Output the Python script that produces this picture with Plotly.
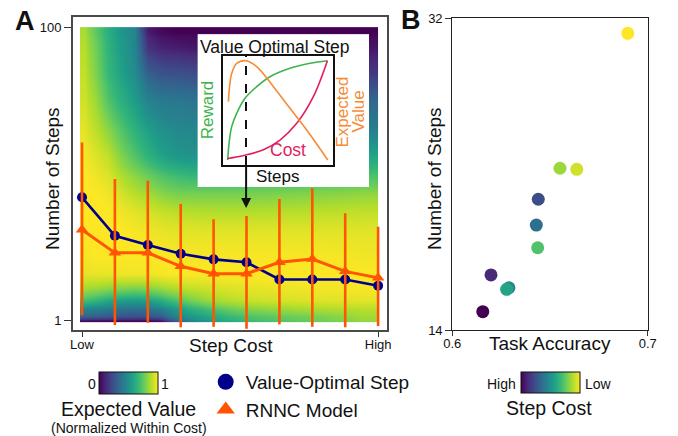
import numpy as np
import plotly.graph_objects as go

W, H = 678, 436
FONT = "Liberation Sans, Arial, sans-serif"

# ---------------- Panel A data ----------------
cost_index = list(range(10))
cost_tick_text = ["Low", "High"]
value_optimal_steps = [6.93, 3.79, 3.28, 2.86, 2.62, 2.50, 1.91, 1.91, 1.91, 1.73]
rnnc_steps = [4.17, 2.90, 2.90, 2.35, 2.09, 2.09, 2.50, 2.63, 2.17, 1.96]
rnnc_upper = [16.4, 9.23, 8.99, 6.24, 4.91, 5.17, 6.75, 7.98, 5.39, 4.37]
rnnc_lower = [1.09, 0.935, 0.969, 0.902, 0.910, 0.882, 0.945, 0.910, 0.902, 0.920]

# expected value (normalized within cost)
heat_cost = [0, 0.4, 0.8, 1.2, 1.6, 2.0, 2.4, 2.85, 3.6, 5, 7, 9]
heat_steps = [0.99, 1.065, 1.19, 1.39, 1.63, 2.06, 2.81, 4.16, 5.5, 7.2, 9.4, 13.5, 20, 32, 51, 75, 97]
heat_value = [
    [0.00, 0.00, 0.00, 0.00, 0.00, 0.00, 0.03, 0.32, 0.52, 0.68, 0.77, 0.84],
    [0.32, 0.30, 0.28, 0.26, 0.25, 0.25, 0.30, 0.45, 0.58, 0.72, 0.79, 0.86],
    [0.45, 0.43, 0.40, 0.37, 0.36, 0.37, 0.42, 0.54, 0.68, 0.81, 0.87, 0.89],
    [0.70, 0.66, 0.60, 0.56, 0.55, 0.57, 0.63, 0.72, 0.84, 0.92, 0.95, 0.96],
    [0.86, 0.84, 0.82, 0.80, 0.79, 0.80, 0.84, 0.88, 0.92, 0.96, 0.98, 0.99],
    [0.96, 0.97, 0.97, 0.98, 0.98, 0.98, 0.99, 1.00, 1.00, 1.00, 1.00, 1.00],
    [0.99, 1.00, 1.00, 1.00, 1.00, 1.00, 1.00, 0.99, 0.99, 0.99, 0.99, 0.98],
    [1.00, 1.00, 1.00, 1.00, 0.99, 0.98, 0.97, 0.96, 0.96, 0.96, 0.96, 0.96],
    [1.00, 1.00, 1.00, 0.98, 0.96, 0.94, 0.92, 0.90, 0.89, 0.89, 0.90, 0.91],
    [1.00, 1.00, 0.98, 0.94, 0.90, 0.87, 0.83, 0.80, 0.80, 0.80, 0.82, 0.84],
    [1.00, 0.98, 0.95, 0.88, 0.83, 0.78, 0.73, 0.69, 0.66, 0.68, 0.70, 0.72],
    [0.99, 0.95, 0.90, 0.80, 0.72, 0.64, 0.57, 0.52, 0.50, 0.52, 0.56, 0.58],
    [0.96, 0.90, 0.82, 0.72, 0.64, 0.56, 0.50, 0.47, 0.46, 0.45, 0.44, 0.43],
    [0.93, 0.85, 0.72, 0.63, 0.55, 0.45, 0.41, 0.40, 0.38, 0.36, 0.35, 0.33],
    [0.91, 0.80, 0.66, 0.56, 0.48, 0.30, 0.25, 0.24, 0.22, 0.20, 0.18, 0.16],
    [0.89, 0.78, 0.64, 0.54, 0.46, 0.15, 0.10, 0.08, 0.06, 0.05, 0.05, 0.06],
    [0.87, 0.75, 0.62, 0.52, 0.45, 0.08, 0.02, 0.00, 0.00, 0.00, 0.00, 0.00],
]
heat_cost_extent = [-0.06, 9.0]
heat_steps_extent = [0.974, 100]

# ---------------- Inset schematic ----------------
reward_x = [0.045, 0.061, 0.082, 0.127, 0.203, 0.309, 0.430, 0.612, 0.794, 0.952]
reward_y = [0.046, 0.229, 0.352, 0.474, 0.612, 0.719, 0.810, 0.887, 0.933, 0.957]
costc_x = [0.045, 0.203, 0.370, 0.521, 0.673, 0.824, 0.952]
costc_y = [0.060, 0.090, 0.140, 0.229, 0.382, 0.627, 0.957]
ev_x = [0.052, 0.061, 0.082, 0.127, 0.212, 0.309, 0.461, 0.612, 0.764, 0.955]
ev_y = [0.581, 0.703, 0.841, 0.933, 0.957, 0.902, 0.719, 0.520, 0.321, 0.046]
optimal_x = 0.212

# ---------------- Panel B data ----------------
task_accuracy = [0.6156, 0.6198, 0.6440, 0.6430, 0.6290, 0.6278, 0.6437, 0.6551, 0.6637, 0.6898]
steps_b = [15.06, 17.18, 21.55, 20.06, 16.44, 16.35, 18.75, 23.34, 23.28, 31.13]
cost_color = [0.00, 0.12, 0.24, 0.36, 0.47, 0.58, 0.72, 0.85, 0.93, 1.00]

NAVY = "#00008b"
ORANGE = "#ff5500"
GREEN = "#3fb44e"
CRIMSON = "#e01f5c"
EVOR = "#f68b35"


def px(x):
    return x / W


def py(y):
    return 1 - y / H


x_edges = [heat_cost_extent[0]] + [(a + b) / 2 for a, b in zip(heat_cost[:-1], heat_cost[1:])] + [heat_cost_extent[1]]
y_edges = [heat_steps_extent[0]] + [float(np.sqrt(a * b)) for a, b in zip(heat_steps[:-1], heat_steps[1:])] + [heat_steps_extent[1]]

fig = go.Figure()

fig.add_trace(go.Heatmap(
    x=x_edges, y=y_edges, z=heat_value, zmin=0, zmax=1, colorscale="Viridis",
    zsmooth="best", hoverinfo="skip", xaxis="x", yaxis="y",
    colorbar=dict(orientation="h", len=59, lenmode="pixels", thickness=22, thicknessmode="pixels",
                  x=px(128.5), xanchor="center", y=py(395), yanchor="bottom", xpad=0, ypad=0,
                  outlinewidth=1, outlinecolor="#111", showticklabels=False, ticks=""),
))

fig.add_trace(go.Scatter(
    x=cost_index, y=value_optimal_steps, mode="lines+markers", showlegend=False,
    line=dict(color=NAVY, width=2.6), marker=dict(color=NAVY, size=10, symbol="circle"),
    xaxis="x", yaxis="y",
))

fig.add_trace(go.Scatter(
    x=cost_index, y=rnnc_steps, mode="lines+markers", showlegend=False,
    line=dict(color=ORANGE, width=3), marker=dict(color=ORANGE, size=11, symbol="triangle-up"),
    error_y=dict(type="data", symmetric=False,
                 array=[u - m for u, m in zip(rnnc_upper, rnnc_steps)],
                 arrayminus=[m - l for m, l in zip(rnnc_steps, rnnc_lower)],
                 color=ORANGE, thickness=2.6, width=0),
    xaxis="x", yaxis="y",
))

# legend-only entries
fig.add_trace(go.Scatter(x=[None], y=[None], mode="markers", name="Value-Optimal Step",
                         marker=dict(color=NAVY, size=16, symbol="circle"), xaxis="x", yaxis="y"))
fig.add_trace(go.Scatter(x=[None], y=[None], mode="markers", name="RNNC Model",
                         marker=dict(color=ORANGE, size=16, symbol="triangle-up"), xaxis="x", yaxis="y"))

# Panel B
fig.add_trace(go.Scatter(
    x=task_accuracy, y=steps_b, mode="markers", showlegend=False,
    marker=dict(size=13, color=cost_color, colorscale="Viridis", cmin=0, cmax=1,
                line=dict(width=0),
                colorbar=dict(orientation="h", len=59, lenmode="pixels", thickness=21, thicknessmode="pixels",
                              x=px(550.7), xanchor="center", y=py(394.3), yanchor="bottom", xpad=0, ypad=0,
                              outlinewidth=1, outlinecolor="#111", showticklabels=False, ticks="")),
    xaxis="x2", yaxis="y2",
))

# Inset schematic curves
fig.add_trace(go.Scatter(x=reward_x, y=reward_y, mode="lines", line=dict(color=GREEN, width=1.6, shape="spline"),
                         showlegend=False, hoverinfo="skip", xaxis="x4", yaxis="y4"))
fig.add_trace(go.Scatter(x=costc_x, y=costc_y, mode="lines", line=dict(color=CRIMSON, width=1.6, shape="spline"),
                         showlegend=False, hoverinfo="skip", xaxis="x4", yaxis="y4"))
fig.add_trace(go.Scatter(x=ev_x, y=ev_y, mode="lines", line=dict(color=EVOR, width=1.6, shape="spline"),
                         showlegend=False, hoverinfo="skip", xaxis="x4", yaxis="y4"))

axfont = dict(family=FONT, size=13, color="#111")

fig.update_layout(
    width=W, height=H, margin=dict(l=0, r=0, t=0, b=0, autoexpand=False),
    paper_bgcolor="white", plot_bgcolor="white",
    font=dict(family=FONT, color="#111"),
    xaxis=dict(domain=[px(73), px(387)], range=[-0.2736, 9.27], tickvals=[0, 9], ticktext=cost_tick_text,
               ticks="outside", ticklen=5, tickwidth=1.2, tickcolor="#333", tickfont=axfont,
               ticklabelstandoff=-4,
               showline=True, mirror=True, linecolor="#4a4a4a", linewidth=1.8,
               showgrid=False, zeroline=False, anchor="y", automargin=False),
    yaxis=dict(domain=[py(330), py(17.3)], type="log", range=[-0.063, 2.067], tickvals=[1, 100],
               ticktext=["1", "100"], ticks="outside", ticklen=7, tickwidth=1.2, tickcolor="#333",
               tickfont=axfont, showline=True, mirror=True, linecolor="#4a4a4a", linewidth=1.8,
               showgrid=False, zeroline=False, anchor="x", automargin=False),
    xaxis2=dict(domain=[px(452.3), px(647.7)], range=[0.6, 0.7], tickvals=[0.6, 0.7], ticktext=["0.6", "0.7"],
                ticks="outside", ticklen=5, tickwidth=1.1, tickcolor="#333", tickfont=axfont,
                ticklabelstandoff=-4,
                showline=True, mirror=True, linecolor="#222", linewidth=1.2,
                showgrid=False, zeroline=False, anchor="y2", automargin=False),
    yaxis2=dict(domain=[py(330), py(18.3)], range=[14, 32], tickvals=[14, 32], ticktext=["14", "32"],
                ticks="outside", ticklen=6, tickwidth=1.1, tickcolor="#333", tickfont=axfont,
                showline=True, mirror=True, linecolor="#222", linewidth=1.2,
                showgrid=False, zeroline=False, anchor="x2", automargin=False),
    xaxis3=dict(domain=[px(197.7), px(369)], range=[0, 1], visible=False, anchor="y3"),
    yaxis3=dict(domain=[py(187), py(34.3)], range=[0, 1], visible=False, anchor="x3"),
    xaxis4=dict(domain=[px(222.7), px(332.7)], range=[0, 1], showticklabels=False, ticks="",
                showline=True, mirror=True, linecolor="#111", linewidth=1.6,
                showgrid=False, zeroline=False, anchor="y4"),
    yaxis4=dict(domain=[py(165), py(56)], range=[0, 1], showticklabels=False, ticks="",
                showline=True, mirror=True, linecolor="#111", linewidth=1.6,
                showgrid=False, zeroline=False, anchor="x4"),
    legend=dict(x=px(205.7), xanchor="left", y=py(363), yanchor="top",
                font=dict(family=FONT, size=19, color="#111"), bgcolor="rgba(0,0,0,0)",
                tracegroupgap=0, itemwidth=30),
)

shapes = [
    dict(type="rect", xref="x3", yref="y3", x0=0, x1=1, y0=0, y1=1, fillcolor="white",
         line=dict(width=0), layer="below"),
    dict(type="line", xref="x4", yref="y4", x0=optimal_x, x1=optimal_x, y0=0, y1=1,
         line=dict(color="#111", width=2, dash="dash"), layer="above"),
]
fig.update_layout(shapes=shapes)


def ann(text, x, y, size, color="#111", angle=0, xanchor="center", yanchor="middle"):
    return dict(text=text, x=px(x), y=py(y), xref="paper", yref="paper", showarrow=False,
                font=dict(family=FONT, size=size, color=color), textangle=angle,
                xanchor=xanchor, yanchor=yanchor)


annotations = [
    ann("<b>A</b>", 25, 21, 27),
    ann("<b>B</b>", 411, 20, 27),
    ann("Number of Steps", 52, 179, 19, angle=-90),
    ann("Step Cost", 230.8, 345, 19),
    ann("Number of Steps", 434, 179, 19, angle=-90),
    ann("Task Accuracy", 550, 343, 19),
    ann("Value Optimal Step", 274.4, 47, 17.5),
    ann("Reward", 208.3, 110, 17, color=GREEN, angle=-90),
    ann("Cost", 288.3, 150, 17.5, color=CRIMSON),
    ann("Expected", 342, 112.5, 17, color=EVOR, angle=-90),
    ann("Value", 357.5, 112, 17, color=EVOR, angle=-90),
    ann("Steps", 277.7, 176.7, 17),
    ann("0", 91.7, 383.5, 14),
    ann("1", 164.5, 383.5, 14),
    ann("Expected Value", 128.3, 409, 19.5),
    ann("(Normalized Within Cost)", 128.7, 428, 14),
    ann("High", 517.7, 383.5, 14, xanchor="right"),
    ann("Low", 582.7, 383.5, 14, xanchor="left"),
    ann("Step Cost", 549, 408, 19.5),
    dict(text="", x=px(246.1), y=py(208), xref="paper", yref="paper", showarrow=True,
         ax=0, ay=-43, axref="pixel", ayref="pixel", arrowhead=2, arrowsize=1, arrowwidth=2,
         arrowcolor="#111", standoff=0, startstandoff=0),
]
fig.update_layout(annotations=annotations)

fig.write_html("out.html", config={"displayModeBar": False},
               post_script="document.body.style.margin='0';document.body.style.padding='0';")
